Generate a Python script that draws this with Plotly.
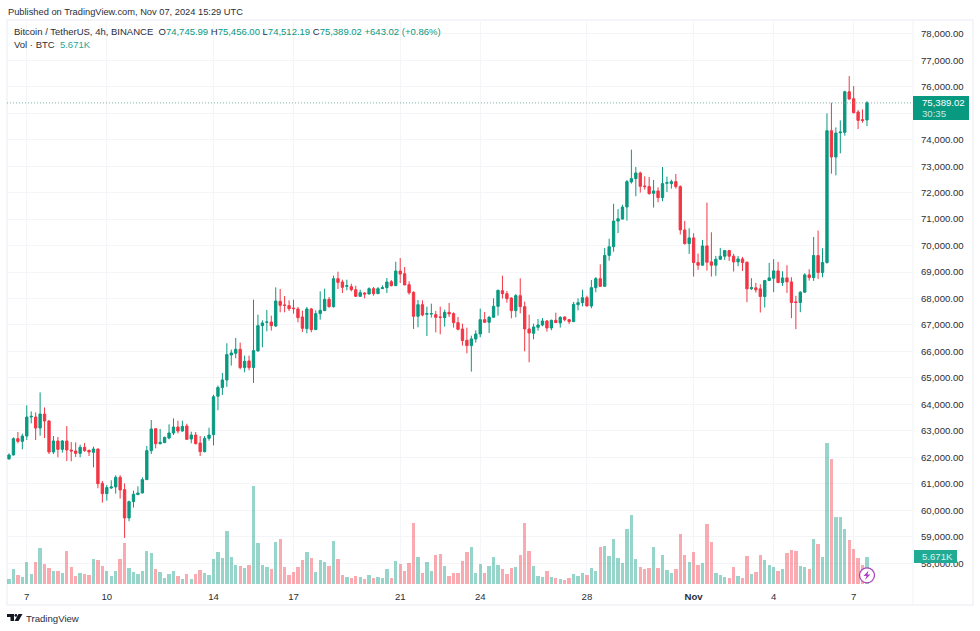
import plotly.graph_objects as go
import pandas as pd

opens = [61937,62087,62704,62603,62805,63522,63522,63106,63635,63371,62201,62616,62301,62616,62276,62238,62150,62377,62264,62188,
62314,61018,60628,60842,60880,61245,60779,59710,60326,60590,60653,61157,62251,63081,62515,62553,62729,62918,63144,62993,
63182,62691,62842,62540,62213,62717,62855,64308,64635,64924,65868,65931,66082,65390,65641,65390,66019,66975,67101,67113,
66962,67893,67755,67730,67641,67604,67302,66862,67604,66824,67428,67541,67969,67692,68749,68623,68459,68447,68333,68082,
68208,68170,68371,68182,68371,68409,68635,68484,69038,68937,68522,68233,67327,67767,67402,67415,67390,67302,67277,67478,
67428,67088,66849,66421,66220,66472,66660,67201,67101,67289,67704,68296,68182,68019,67541,68107,67692,66849,66685,66912,
67000,67151,66887,67176,67075,67302,67201,67126,67767,67843,68031,67717,68409,68749,68459,69629,69956,70925,71000,71459,
72403,72528,72742,72252,72227,71975,72063,71811,72352,72340,72415,72226,70591,70075,70289,69358,69257,69987,69383,69257,
69483,69597,69811,69597,69383,69496,69370,68364,68402,68364,68075,68678,68767,69043,68603,68779,68628,67873,67848,68238,
68892,68792,69622,68980,69358,74339,73346,74264,74277,75811,75547,75044,74755,74745.99]
highs = [62150,62754,62956,62893,63962,63735,63698,64453,63886,63408,62805,62767,62654,63182,62578,62565,62477,62540,62289,62402,
62327,61106,60955,61131,61320,61320,61018,60364,60741,60905,61245,62427,63408,63094,63069,62779,63245,63471,63383,63383,
63270,62968,62956,62805,62805,63119,64364,64710,65188,66308,66069,66509,66333,65843,65843,67956,67390,67176,67566,67352,
68421,68359,68094,67931,67956,67679,67541,67679,67641,67553,68270,68371,68057,68862,69013,68711,68711,68560,68484,68333,
68233,68421,68434,68434,68497,68774,68698,69390,69528,69189,68648,68270,67943,67931,67692,67805,67528,67692,67579,67830,
67478,67302,67050,66899,66597,66799,67616,67491,67340,68006,68333,68862,68283,68044,68170,68761,67880,67390,67050,67226,
67264,67189,67201,67465,67327,67327,67214,67868,68006,68333,68107,68698,68811,69289,69906,70258,71579,71378,71541,72478,
73623,72969,72793,72616,72591,72478,72201,72969,72604,72491,72704,72276,70930,70653,70465,69697,70213,71622,70503,69609,
69911,69836,69836,69685,69609,69572,69396,68767,68590,68540,68704,69345,69483,69383,69031,69257,68804,68100,68276,68955,
69106,70326,70565,69899,74994,75396,74465,74729,75849,76403,76025,75119,75145,75456]
lows = [61924,62075,62528,62301,62654,63283,62654,62817,62729,62125,62125,62000,62176,61861,61848,62012,62000,62213,62050,61622,
60830,60289,60364,60804,60628,60440,58955,59584,60100,60578,60641,61144,62125,62339,62490,62540,62679,62842,62905,62968,
62654,62528,62490,62050,62188,62628,62452,63779,64358,64660,65465,65742,65327,65214,65289,64811,65994,66157,66761,66786,
66925,67478,67478,67528,67428,67101,66736,66685,66723,66824,67201,67528,67654,67654,68359,68208,68308,68270,68069,68057,
68006,68157,68107,68170,68359,68208,68459,68472,68585,68510,68145,66849,66912,67327,66585,67277,66723,66648,66937,67302,
66899,66799,66220,65931,65239,66333,66534,67075,66698,67277,67352,67994,67843,67252,67289,67440,66006,65591,66459,66786,
66950,66748,66799,67075,66899,67138,67038,67113,67553,67704,67704,67629,68233,68434,68459,69428,69768,70472,70988,70943,
72340,71862,72000,72113,71925,71434,71635,71673,72025,72151,72151,70414,70037,69685,68829,69081,69245,69056,68829,68855,
69458,69458,69421,69018,69219,69043,67861,68326,68226,67471,67660,68678,68238,68578,68477,68213,67257,66842,67483,68226,
68678,68666,68741,68804,69320,72717,72654,73484,74151,75509,74994,74402,74641,74512.19]
closes = [62087,62704,62603,62805,63522,63547,63106,63635,63371,62201,62616,62301,62616,62276,62238,62150,62377,62251,62201,62314,
61006,60628,60855,60880,61245,60767,59710,60326,60603,60653,61157,62251,63069,62515,62565,62754,62918,63144,62993,63169,
62679,62842,62515,62213,62717,62842,64289,64635,64924,65880,65943,66082,65390,65629,65390,66031,66975,67075,67113,66975,
67906,67742,67742,67616,67616,67277,66874,67604,66824,67428,67553,67969,67692,68749,68610,68421,68484,68333,68082,68220,
68170,68371,68182,68371,68409,68623,68484,69038,68925,68510,68220,67327,67767,67377,67428,67428,67289,67289,67478,67415,
67088,66836,66409,66220,66472,66660,67201,67101,67289,67704,68308,68182,67994,67541,68107,67692,66849,66698,66924,67000,
67151,66887,67176,67088,67289,67201,67126,67780,67843,68031,67717,68409,68749,68459,69629,69956,70925,71013,71453,72415,
72528,72742,72239,72227,71962,72063,71811,72340,72377,72415,72227,70591,70075,70289,69358,69257,69987,69370,69257,69483,
69597,69811,69597,69383,69496,69358,68364,68414,68326,68075,68678,68779,69043,68603,68779,68628,67848,67848,68238,68892,
68792,69622,68980,69358,74339,73346,74251,74289,75811,75535,75019,74729,74729,75389.02]
volumes_k = [1.04,3.1,1.8,1.46,4.5,2.15,4.5,7.57,4.1,3.26,2.78,2.64,2.3,6.94,3.6,1.67,2.2,2.08,1.8,5.2,
5.07,3.75,2.78,1.67,2.64,5.2,8.47,3.33,2.5,2.08,2.78,6.88,6.46,3.06,2.5,1.25,2.08,2.7,1.67,1.04,
2.0,1.1,2.15,2.9,2.2,1.9,5.2,6.6,5.35,11.1,5.55,3.96,3.68,3.33,3.9,20.4,8.47,3.96,3.54,3.1,
8.68,9.38,3.6,1.9,2.57,3.54,4.93,6.67,5.4,2.5,4.93,4.5,3.68,8.96,5.14,1.9,1.46,1.18,1.67,1.39,
1.04,1.8,1.18,1.46,1.18,3.1,1.25,4.8,4.17,2.7,4.3,12.7,5.55,2.2,4.58,2.64,5.97,6.25,3.68,1.67,
2.3,2.3,4.7,6.6,7.7,2.3,4.17,2.3,3.68,5.55,4.03,3.1,2.15,3.26,3.54,6.1,12.7,6.8,3.75,1.67,
1.53,2.64,1.39,1.18,1.04,0.76,1.18,2.08,1.67,2.2,1.8,3.26,2.7,7.64,7.9,5.83,9.3,5.4,4.4,11.46,
14.3,5.2,3.54,3.1,3.33,7.8,3.33,5.97,3.0,2.36,3.1,10.35,6.04,4.58,6.74,3.9,4.4,12.5,8.75,2.3,
1.94,1.46,1.32,3.47,1.67,1.25,5.9,2.08,2.57,6.04,4.93,3.96,3.54,2.78,3.1,6.46,7.08,6.94,3.68,3.54,
3.2,9.3,8.33,5.6,29.4,26.0,14.0,14.0,11.5,9.17,7.3,5.5,3.9,5.671]
x_ticks = ["2024-10-07","2024-10-10","2024-10-14","2024-10-17","2024-10-21","2024-10-24","2024-10-28","2024-11-01","2024-11-04","2024-11-07"]
x_labels = ["7","10","14","17","21","24","28","<b>Nov</b>","4","7"]
price_ticks = [58000,59000,60000,61000,62000,63000,64000,65000,66000,67000,68000,69000,70000,71000,72000,73000,74000,75000,76000,77000,78000]
hidden_price_ticks = [75000]
first_bar = "2024-10-06 08:00"
last_close = closes[-1]
times = pd.date_range(first_bar, periods=len(closes), freq="4h")

UP, DOWN = "#089981", "#F23645"
UP_V, DOWN_V = "rgba(8,153,129,0.42)", "rgba(242,54,69,0.42)"
GRID, FRAME, TXT = "#f3f5f8", "#eff2f7", "#2a2e39"
FONT = "Liberation Sans"
L, R, T, B = 7.0, 913.0, 22.0, 584.0
def PX(p): return (p - L) / (R - L)
def PY(p): return (B - p) / (B - T)

fig = go.Figure()
fig.add_trace(go.Bar(x=times, y=volumes_k, yaxis="y", width=4 * 3600e3 * 0.75,
    marker=dict(color=[UP_V if c >= o else DOWN_V for o, c in zip(opens, closes)], line_width=0),
    hoverinfo="skip", showlegend=False))
fig.add_trace(go.Candlestick(x=times, open=opens, high=highs, low=lows, close=closes, yaxis="y2",
    whiskerwidth=0, showlegend=False,
    increasing=dict(line=dict(color=UP, width=1), fillcolor=UP),
    decreasing=dict(line=dict(color=DOWN, width=1), fillcolor=DOWN)))

def rect(x0, y0, x1, y1, **kw):
    return dict(type="rect", xref="paper", yref="paper", x0=PX(x0), x1=PX(x1), y0=PY(y0), y1=PY(y1), **kw)
def path(points, color):
    d = "M" + " L".join(f"{PX(a):.5f},{PY(b):.5f}" for a, b in points) + " Z"
    return dict(type="path", xref="paper", yref="paper", path=d, fillcolor=color, line_width=0)

shapes = [
    rect(7, 20, 973, 605, line=dict(color=FRAME, width=1.5), layer="below"),
    dict(type="line", xref="paper", yref="paper", x0=PX(913), x1=PX(913), y0=PY(20), y1=PY(605), line=dict(color=FRAME, width=1)),
    dict(type="line", xref="paper", yref="y2", x0=0, x1=1, y0=last_close, y1=last_close, line=dict(color="#5f9f95", width=0.8, dash="1px,2px")),
    rect(913, 96, 969, 120, fillcolor=UP, line_width=0),
    rect(914, 550, 957, 563, fillcolor="#22AB94", line_width=0),
    dict(type="circle", xref="paper", yref="paper", x0=PX(859.5), x1=PX(874.5), y0=PY(567.8), y1=PY(582.8),
         fillcolor="white", line=dict(color="#AB47BC", width=1.3)),
    path([(868.5,570.5),(863.5,576),(866.5,576),(865,580),(870.5,574.5),(867.5,574.5)], "#AB47BC"),
    path([(7,614),(14,614),(14,621),(10.5,621),(10.5,617),(7,617)], "#131722"),
    path([(18.5,614),(22.5,614),(18.5,621),(14.5,621)], "#131722"),
    dict(type="circle", xref="paper", yref="paper", x0=PX(14.5), x1=PX(17.3), y0=PY(614), y1=PY(616.8), fillcolor="#131722", line_width=0),
]

def text(s, x, y, size=9.5, color=TXT, anchor="left"):
    return dict(text=s, xref="paper", yref="paper", x=PX(x), y=PY(y), xanchor=anchor, yanchor="middle",
                showarrow=False, font=dict(family=FONT, size=size, color=color), align="left", borderpad=0)

g = lambda s, c=UP: f'<span style="color:{c}">{s}</span>'
annotations = [
    text("Published on TradingView.com, Nov 07, 2024 15:29 UTC", 7, 11.5, 9.3),
    text("Bitcoin / TetherUS, 4h, BINANCE  O" + g("74,745.99") + " H" + g("75,456.00") + " L" + g("74,512.19")
         + " C" + g("75,389.02") + " " + g("+643.02 (+0.86%)"), 13, 31.5, 9.5),
    text("Vol · BTC  " + g("5.671K", "#26A69A"), 13, 44.5, 9.5),
    text("75,389.02", 921, 102.5, 9.6, "white"),
    text("30:35", 921, 113.5, 9.6, "#c8e8e2"),
    text("5.671K", 921, 556.5, 9.6, "#d8f2ec"),
    text("TradingView", 25, 618, 9.6, "#2a2e39"),
]

fig.update_layout(
    width=980, height=631, paper_bgcolor="white", plot_bgcolor="white", bargap=0, boxgap=0.25,
    margin=dict(l=L, r=980 - R, t=T, b=631 - B, pad=0, autoexpand=False),
    font=dict(family=FONT, size=9.6, color=TXT), showlegend=False, shapes=shapes, annotations=annotations,
    xaxis=dict(type="date", range=["2024-10-06 06:12", "2024-11-09 05:24"], rangeslider=dict(visible=False),
               tickmode="array", tickvals=x_ticks, ticktext=x_labels, showgrid=True, gridcolor=GRID, gridwidth=1,
               ticks="", showline=False, zeroline=False, ticklabelstandoff=5, tickfont=dict(size=9.6, color=TXT)),
    yaxis=dict(range=[0, 117], visible=False, showgrid=False, fixedrange=True),
    yaxis2=dict(overlaying="y", side="right", range=[57214, 78446], tickmode="array", tickvals=price_ticks,
                ticktext=["" if v in hidden_price_ticks else f"{v:,.2f}" for v in price_ticks],
                showgrid=True, gridcolor=GRID, gridwidth=1, zeroline=False, ticks="", showline=False,
                ticklabelstandoff=7, tickfont=dict(size=9.6, color=TXT)),
)
fig.write_html("out.html", post_script="document.body.style.margin='0';", config=dict(displayModeBar=False))
